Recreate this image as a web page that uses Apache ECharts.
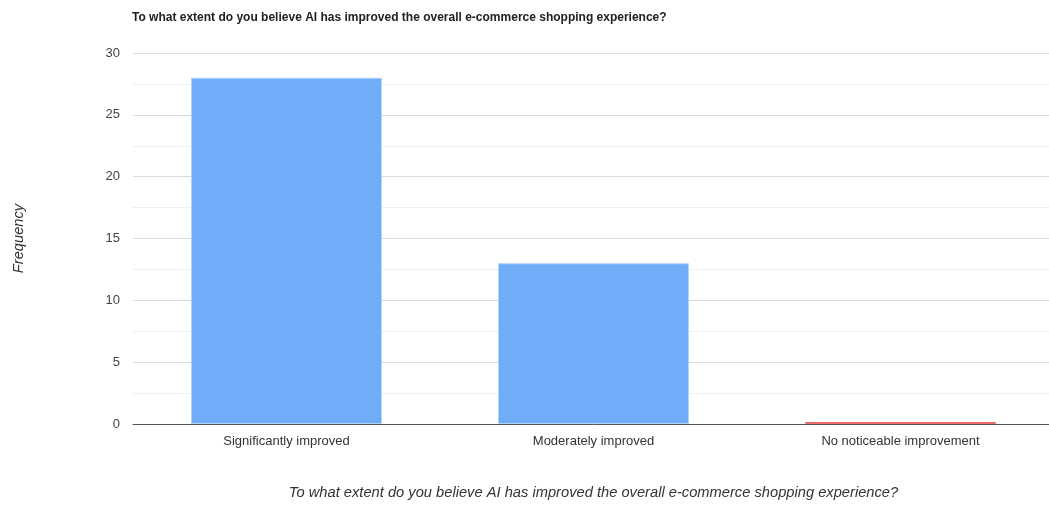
<!DOCTYPE html>
<html>
<head>
<meta charset="utf-8">
<script src="https://cdn.jsdelivr.net/npm/echarts@6/dist/echarts.min.js"></script>
<style>
  html, body { margin: 0; padding: 0; background: #fff; overflow: hidden; }
  #wrap { width: 1049px; height: 505px; overflow: hidden; }
  /* the plot area runs a few pixels past the visible right edge */
  #chart { width: 1054px; height: 505px; }
</style>
</head>
<body>
<div id="wrap"><div id="chart"></div></div>
<script>
const titleText = 'To what extent do you believe AI has improved the overall e-commerce shopping experience?';
const categories = ['Significantly improved', 'Moderately improved', 'No noticeable improvement'];
const frequencies = [28, 13, 0];
const barColors = ['#70adf8', '#70adf8', '#f26b6b'];
const yTicks = [0, 5, 10, 15, 20, 25, 30];

const chart = echarts.init(document.getElementById('chart'), null, { renderer: 'canvas' });

const font = 'Liberation Sans, Arial, sans-serif';

chart.setOption({
  animation: false,
  title: {
    text: titleText,
    left: 132,
    top: 12,
    padding: 0,
    textStyle: { fontFamily: font, fontSize: 12, fontWeight: 'bold', color: '#222' }
  },
  grid: { left: 133, right: 0, top: 53, bottom: 78, containLabel: false },
  xAxis: {
    type: 'category',
    data: categories,
    name: titleText,
    nameLocation: 'middle',
    nameGap: 61,
    nameTextStyle: { fontFamily: font, fontSize: 14.7, fontStyle: 'italic', color: '#333' },
    axisLine: { lineStyle: { color: '#555', width: 1 } },
    axisTick: { show: false },
    axisLabel: { fontFamily: font, fontSize: 13, color: '#333', margin: 11 }
  },
  yAxis: {
    type: 'value',
    min: yTicks[0],
    max: yTicks[yTicks.length - 1],
    interval: 5,
    name: 'Frequency',
    nameLocation: 'middle',
    nameGap: 107,
    nameTextStyle: { fontFamily: font, fontSize: 14.7, fontStyle: 'italic', color: '#333' },
    axisLine: { show: false },
    axisTick: { show: false },
    axisLabel: { fontFamily: font, fontSize: 13, color: '#444', margin: 13 },
    splitLine: { lineStyle: { color: '#dcdcdc', width: 1 } },
    minorTick: { show: false, splitNumber: 2 },
    minorSplitLine: { show: true, lineStyle: { color: '#efefef', width: 1 } }
  },
  series: [{
    type: 'bar',
    data: frequencies.map((v, i) => ({
      value: v,
      itemStyle: {
        color: barColors[i],
        borderColor: v > 0 ? '#b3d3fb' : barColors[i],
        borderWidth: 1
      }
    })),
    barWidth: '62.2%',
    barMinHeight: 2,
    z: 3
  }]
});
</script>
</body>
</html>
